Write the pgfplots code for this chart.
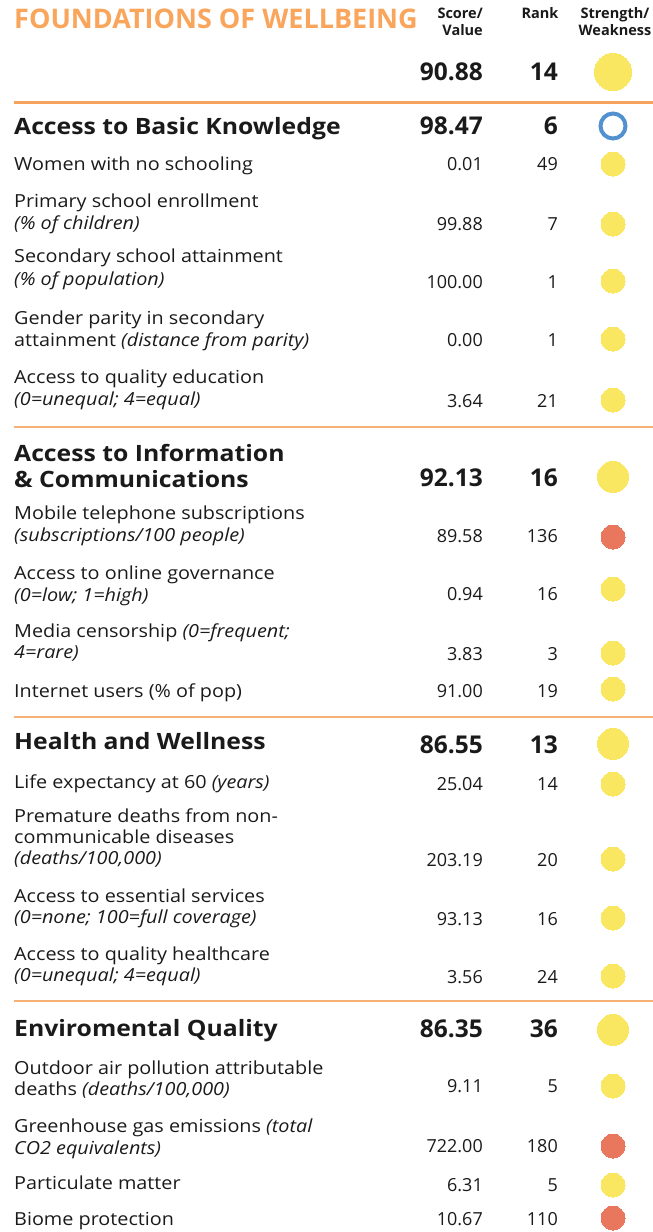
\documentclass[border=0pt]{standalone}
\usepackage{fontspec}
\setmainfont{Open Sans}[FakeStretch=1.1]
\newfontfamily\numf{Open Sans}
\usepackage{pgfplots}
\pgfplotsset{compat=1.18}
\usepackage{pgfplotstable}
\definecolor{ttl}{HTML}{F9A55B}
\definecolor{rulec}{HTML}{F6A35E}
\definecolor{yel}{HTML}{FAE761}
\definecolor{salm}{HTML}{E8775D}
\definecolor{blu}{HTML}{5291CF}
\definecolor{ink}{HTML}{1A1A1A}

\pgfplotstableread{
y val rank
72 90.88 14
126 98.47 6
478 92.13 16
745 86.55 13
1029 86.35 36
}\tabhead

\pgfplotstableread{
y val rank
164 0.01 49
224 99.88 7
282 100.00 1
340 0.00 1
401 3.64 21
536 89.58 136
594 0.94 16
654 3.83 3
691 91.00 19
784 25.04 14
860 203.19 20
919 93.13 16
977 3.56 24
1086 9.11 5
1146 722.00 180
1185 6.31 5
1219 10.67 110
}\tabrows

\newcommand{\lab}[2]{\node[anchor=base west,inner sep=0pt,text=ink,font=\fontsize{18}{20}\selectfont] at (axis cs:14,#1) {#2};}
\newcommand{\seclab}[2]{\node[anchor=base west,inner sep=0pt,text=ink,font=\fontsize{22.5}{25}\selectfont\bfseries] at (axis cs:14,#1) {#2};}
\newcommand{\hdr}[3]{\node[anchor=base #1,inner sep=0pt,text=ink,font=\numf\fontsize{14.5}{15}\selectfont\bfseries] at (axis cs:#2) {#3};}

\begin{document}
\begin{tikzpicture}
\begin{axis}[
  x=1pt, y=1pt,
  xmin=0, xmax=653, ymin=0, ymax=1232,
  y dir=reverse,
  hide axis,
  clip=false,
  point meta=explicit symbolic,
]
\coordinate (BL) at (axis cs:0,1232);
\coordinate (TR) at (axis cs:653,0);

% rules
\addplot[rulec, line width=3pt, forget plot] coordinates {(14,102) (653,102)};
\addplot[rulec!85, line width=1.2pt, forget plot] coordinates {(14,427) (653,427)};
\addplot[rulec!85, line width=1.2pt, forget plot] coordinates {(14,717) (653,717)};
\addplot[rulec!85, line width=1.2pt, forget plot] coordinates {(14,1001) (653,1001)};

% values and ranks (bold)
\addplot[draw=none, nodes near coords, nodes near coords style={anchor=east, inner sep=0pt, text=ink, font=\numf\fontsize{24.5}{26}\selectfont\bfseries}]
  table[x expr=483, y=y, meta=val] {\tabhead};
\addplot[draw=none, nodes near coords, nodes near coords style={anchor=east, inner sep=0pt, text=ink, font=\numf\fontsize{24.5}{26}\selectfont\bfseries}]
  table[x expr=558, y=y, meta=rank] {\tabhead};
% values and ranks (regular)
\addplot[draw=none, nodes near coords, nodes near coords style={anchor=east, inner sep=0pt, text=ink, font=\numf\fontsize{18}{20}\selectfont}]
  table[x expr=483, y=y, meta=val] {\tabrows};
\addplot[draw=none, nodes near coords, nodes near coords style={anchor=east, inner sep=0pt, text=ink, font=\numf\fontsize{18}{20}\selectfont}]
  table[x expr=558, y=y, meta=rank] {\tabrows};

% circles
\addplot[yel, only marks, mark=*, mark size=18.5pt, mark options={fill=yel, draw=yel, line width=0pt}] coordinates {(613,72)};
\addplot[yel, only marks, mark=*, mark size=15.5pt, mark options={fill=yel, draw=yel, line width=0pt}] coordinates {(613,477) (613,744) (613,1030)};
\addplot[yel, only marks, mark=*, mark size=12pt, mark options={fill=yel, draw=yel, line width=0pt}] coordinates {
(613,164) (613,224) (613,281) (613,339) (613,400) (613,589) (613,653) (613,689)
(613,784) (613,859) (613,918) (613,976) (613,1086) (613,1185)};
\addplot[salm, only marks, mark=*, mark size=12pt, mark options={fill=salm, draw=salm, line width=0pt}] coordinates {(613,537) (613,1146) (613,1218)};
\addplot[blu, only marks, mark=o, mark size=12.5pt, mark options={draw=blu, line width=4pt, fill=none}] coordinates {(613,126)};

% title and headers
\node[anchor=base west, inner sep=0pt, text=ttl, font=\numf\fontsize{27}{30}\selectfont\bfseries] at (axis cs:14,28) {FOUNDATIONS OF WELLBEING};
\hdr{east}{483,18}{Score/}
\hdr{east}{483,35}{Value}
\hdr{}{540,18}{Rank}
\hdr{}{615,18}{Strength/}
\hdr{}{615,35}{Weakness}

% labels
\seclab{134}{Access to Basic Knowledge}
\lab{170.5}{Women with no schooling}
\lab{207.5}{Primary school enrollment}
\lab{229.5}{\itshape (\% of children)}
\lab{262.5}{Secondary school attainment}
\lab{285.5}{\itshape (\% of population)}
\lab{324.5}{Gender parity in secondary}
\lab{346.5}{attainment \textit{(distance from parity)}}
\lab{383.5}{Access to quality education}
\lab{405.5}{\itshape (0=unequal; 4=equal)}

\seclab{461}{Access to Information}
\seclab{487}{\& Communications}
\lab{519.5}{Mobile telephone subscriptions}
\lab{541.5}{\itshape (subscriptions/100 people)}
\lab{579.5}{Access to online governance}
\lab{601.5}{\itshape (0=low; 1=high)}
\lab{637.5}{Media censorship \textit{(0=frequent;}}
\lab{658.5}{\itshape 4=rare)}
\lab{697.5}{Internet users (\% of pop)}

\seclab{749}{Health and Wellness}
\lab{788.5}{Life expectancy at 60 \textit{(years)}}
\lab{822.5}{Premature deaths from non-}
\lab{843.5}{communicable diseases}
\lab{864.5}{\itshape (deaths/100,000)}
\lab{902.5}{Access to essential services}
\lab{923.5}{\itshape (0=none; 100=full coverage)}
\lab{960.5}{Access to quality healthcare}
\lab{981.5}{\itshape (0=unequal; 4=equal)}

\seclab{1036}{Enviromental Quality}
\lab{1074.5}{Outdoor air pollution attributable}
\lab{1095.5}{deaths \textit{(deaths/100,000)}}
\lab{1132.5}{Greenhouse gas emissions \textit{(total}}
\lab{1154.5}{\itshape CO2 equivalents)}
\lab{1189.5}{Particulate matter}
\lab{1225.5}{Biome protection}
\end{axis}
\pgfresetboundingbox
\path (BL) rectangle (TR);
\end{tikzpicture}
\end{document}
